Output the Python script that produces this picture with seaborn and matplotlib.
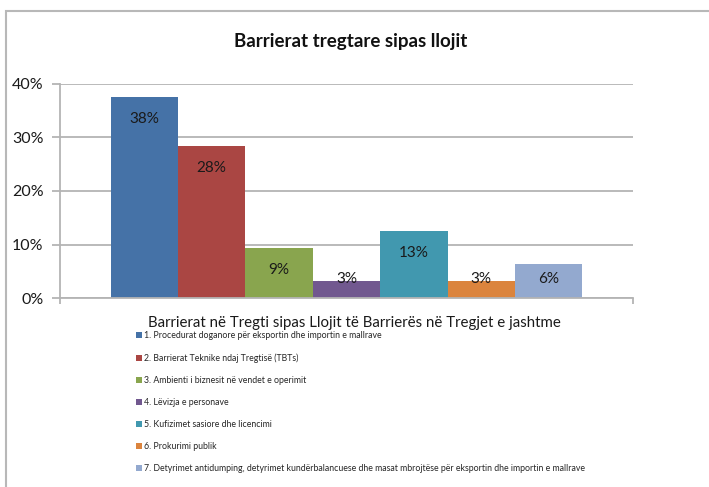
import seaborn as sns
import pandas as pd
from matplotlib import pyplot as plt
from matplotlib.patches import Rectangle, Patch

# data (percent)
kategorite = [
    '1. Procedurat doganore për eksportin dhe importin e mallrave',
    '2. Barrierat Teknike ndaj Tregtisë (TBTs)',
    '3. Ambienti i biznesit në vendet e operimit',
    '4. Lëvizja e personave',
    '5. Kufizimet sasiore dhe licencimi',
    '6. Prokurimi publik',
    '7. Detyrimet antidumping, detyrimet kundërbalancuese dhe masat mbrojtëse për eksportin dhe importin e mallrave',
]
vlerat = [37.6, 28.4, 9.3, 3.2, 12.6, 3.2, 6.4]
ngjyrat = ['#4572A7', '#AA4643', '#89A54E', '#71588F', '#4198AF', '#DB843D', '#93A9CF']

df = pd.DataFrame({'Barriera': kategorite, 'Perqindja': vlerat})

sns.set_theme(style='white')
plt.rcParams['font.family'] = ['Lato', 'DejaVu Sans']

fig = plt.figure(figsize=(7.09, 4.87), dpi=100)
ax = fig.add_axes([60 / 709, 1 - 298 / 487, 573 / 709, 214 / 487])

sns.barplot(data=df, x='Barriera', y='Perqindja', hue='Barriera', palette=ngjyrat,
            width=1, dodge=False, legend=False, ax=ax, saturation=1, linewidth=0)

gri = '#b4b4b4'
ax.set_ylim(0, 40)
ax.set_xlim(-1.25, 7.25)
ax.set_yticks([0, 10, 20, 30, 40])
ax.set_yticklabels(['0%', '10%', '20%', '30%', '40%'], fontsize=11.5, color='#1a1a1a')
ax.set_xticks([-1.25, 7.25])
ax.set_xticklabels(['', ''])
ax.tick_params(axis='y', length=6, width=1.3, color=gri, direction='out', pad=6, left=True)
ax.tick_params(axis='x', length=4, width=1.3, color=gri, direction='out', bottom=True)
ax.yaxis.grid(True, color=gri, lw=1.3)
ax.set_axisbelow(True)
for s in ['top', 'right']:
    ax.spines[s].set_visible(False)
for s in ['left', 'bottom']:
    ax.spines[s].set_color(gri)
    ax.spines[s].set_linewidth(1.3)
ax.set_xlabel('')
ax.set_ylabel('')

for i, v in enumerate(vlerat):
    ax.text(i, max(v - 4.1, 3.55), f'{v:.0f}%', ha='center', va='center',
            fontsize=11, color='#1a1a1a')

fig.text(351 / 709, 1 - 42 / 487, 'Barrierat tregtare sipas llojit', ha='center', va='center',
         fontsize=13.5, fontweight='bold', color='#111111')

# kuadri i jashtem i grafikut
fig.patches.append(Rectangle((6 / 709, -0.1), 1.0, (487 - 11) / 487 + 0.1,
                             transform=fig.transFigure, fill=False, edgecolor='#b8b8b8', lw=1.5))

fig.text(148 / 709, 1 - 323 / 487, 'Barrierat në Tregti sipas Llojit të Barrierës në Tregjet e jashtme',
         ha='left', va='center', fontsize=10.8, color='#1a1a1a')

handles = [Patch(facecolor=c, edgecolor='none') for c in ngjyrat]
leg = fig.legend(handles, kategorite, loc='upper left', bbox_to_anchor=(136 / 709, 1 - 331 / 487),
                 frameon=False, fontsize=6.3, labelspacing=1.5, handlelength=0.7, handleheight=0.7,
                 handletextpad=0.25, borderpad=0, borderaxespad=0)
for t in leg.get_texts():
    t.set_color('#262626')

fig.savefig('out.png', dpi=100)
